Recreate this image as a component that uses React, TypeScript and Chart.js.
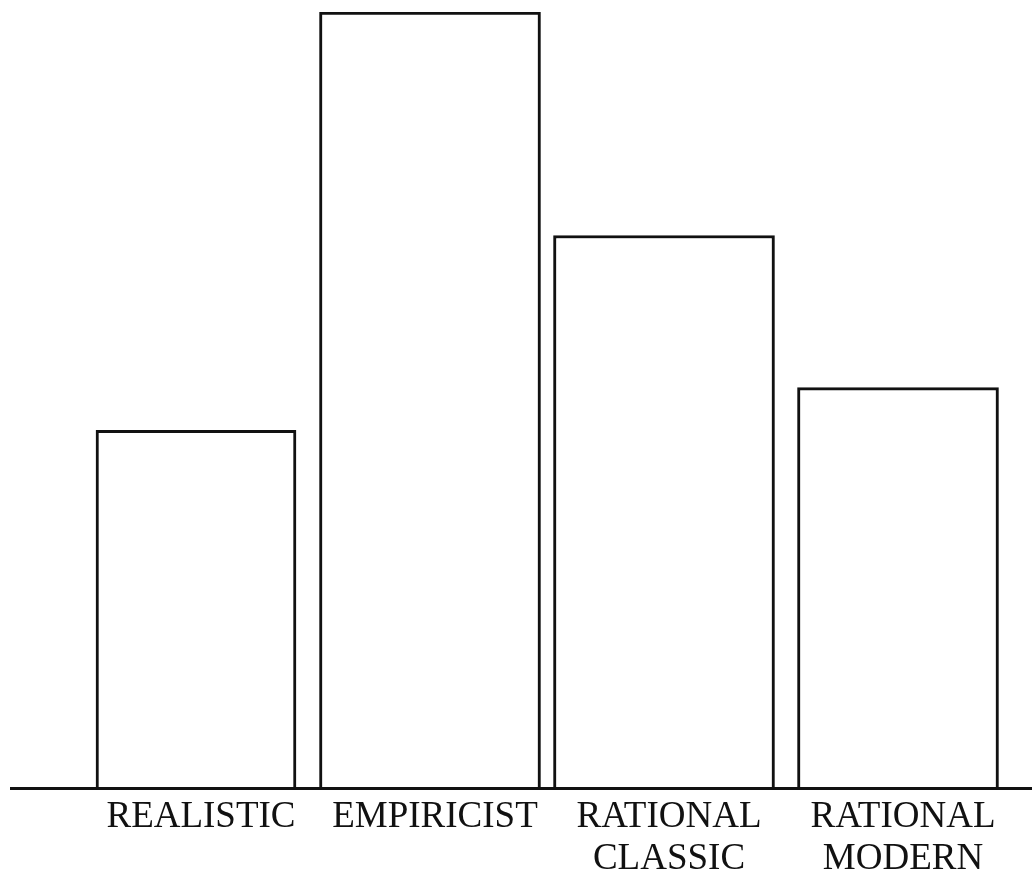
import React, { useEffect, useRef } from "react";
import { Chart, registerables } from "chart.js";

Chart.register(...registerables);

const categories: string[][] = [
  ["REALISTIC"],
  ["EMPIRICIST"],
  ["RATIONAL", "CLASSIC"],
  ["RATIONAL", "MODERN"],
];
const values: number[] = [46.1, 100, 71.2, 51.6];
const yMax = 100;
const barWidths: number[] = [200, 221, 221, 201];

const baselinePlugin = {
  id: "baseline",
  afterDatasetsDraw(chart: any) {
    const { ctx } = chart;
    const y = chart.scales.y.getPixelForValue(0);
    ctx.save();
    ctx.strokeStyle = "#111";
    ctx.lineWidth = 3;
    ctx.beginPath();
    ctx.moveTo(10, y + 0.5);
    ctx.lineTo(chart.width, y + 0.5);
    ctx.stroke();
    ctx.restore();
  },
};

export default function App() {
  const ref = useRef<HTMLCanvasElement>(null);
  useEffect(() => {
    if (!ref.current) return;
    const datasets = values.map((v, i) => ({
      data: values.map((_, j) => (j === i ? v : null)),
      backgroundColor: "#ffffff",
      borderColor: "#111111",
      borderWidth: 3,
      barThickness: barWidths[i],
      grouped: false,
    }));
    const chart = new Chart(ref.current, {
      type: "bar",
      data: { labels: categories, datasets },
      options: {
        responsive: false,
        animation: false,
        layout: { padding: { left: 79, right: 17, top: 12, bottom: 0 } },
        plugins: { legend: { display: false }, tooltip: { enabled: false } },
        scales: {
          x: {
            grid: { display: false, drawTicks: false },
            border: { display: false },
            afterFit: (scale: any) => {
              scale.height = 88;
            },
            ticks: {
              color: "#111",
              padding: 8,
              labelOffset: 5,
              maxRotation: 0,
              autoSkip: false,
              font: { family: "'Liberation Serif', 'Times New Roman', serif", size: 37, lineHeight: 1.14 },
            },
          },
          y: {
            display: false,
            min: 0,
            max: yMax,
          },
        },
      },
      plugins: [baselinePlugin],
    });
    return () => chart.destroy();
  }, []);
  return (
    <div style={{ position: "absolute", left: 0, top: 0, width: 1032, height: 876, background: "#fff" }}>
      <canvas ref={ref} width={1032} height={876} />
    </div>
  );
}
